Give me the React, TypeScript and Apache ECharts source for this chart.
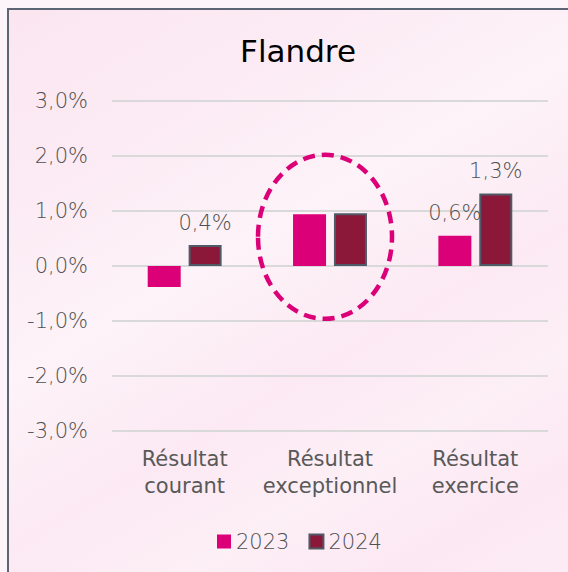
import React, { useEffect, useRef } from "react";
import * as echarts from "echarts";

const categories = ["Résultat\ncourant", "Résultat\nexceptionnel", "Résultat\nexercice"];
const values2023 = [-0.38, 0.94, 0.55];
const values2024 = [0.38, 0.96, 1.32];
const labels2023 = [false, false, true];
const labels2024 = [true, false, true];
const seriesNames = ["2023", "2024"];
const yMin = -3;
const yMax = 3;
const yInterval = 1;

const FONT = "'DejaVu Sans', sans-serif";
const GREY = "#595959";
const THIN_GREY = "#505050";

function fmt(v: number) {
  return v.toFixed(1).replace(".", ",") + "%";
}

export default function App() {
  const ref = useRef<HTMLDivElement>(null);
  useEffect(() => {
    if (!ref.current) return;
    const chart = echarts.init(ref.current, null, { renderer: "svg" });
    const labelStyle = {
      position: "top" as const,
      distance: 12,
      fontFamily: FONT,
      fontSize: 21,
      fontWeight: 200,
      color: THIN_GREY,
      formatter: (p: any) => fmt(Math.round(p.value * 10) / 10),
    };
    chart.setOption({
      animation: false,
      backgroundColor: "transparent",
      title: {
        text: "Flandre",
        left: 293,
        textAlign: "center",
        top: 30,
        textStyle: { fontFamily: FONT, fontSize: 31, fontWeight: "normal", color: "#000" },
      },
      legend: {
        left: 212,
        top: 526,
        icon: "rect",
        itemWidth: 14,
        itemHeight: 14,
        itemGap: 19,
        textStyle: { fontFamily: FONT, fontSize: 21, fontWeight: 200, color: THIN_GREY, padding: [0, 0, 0, 0] },
        data: seriesNames,
      },
      grid: { left: 112, right: 20, top: 101, bottom: 141, containLabel: false },
      xAxis: {
        type: "category",
        data: categories,
        axisLine: { show: false },
        axisTick: { show: false },
        axisLabel: {
          fontFamily: FONT,
          fontSize: 21,
          fontWeight: "normal",
          color: GREY,
          lineHeight: 27,
          margin: 14,
          interval: 0,
        },
      },
      yAxis: {
        type: "value",
        min: yMin,
        max: yMax,
        interval: yInterval,
        axisLine: { show: false },
        axisTick: { show: false },
        splitLine: { lineStyle: { color: "#d9d9d9", width: 2 } },
        axisLabel: {
          fontFamily: FONT,
          fontSize: 21,
          fontWeight: 200,
          color: THIN_GREY,
          margin: 24,
          formatter: (v: number) => fmt(v),
        },
      },
      series: [
        {
          name: seriesNames[0],
          type: "bar",
          barWidth: 33,
          barGap: "24%",
          itemStyle: { color: "#dc0078" },
          data: values2023.map((v, i) => ({ value: v, label: { show: labels2023[i], ...labelStyle } })),
        },
        {
          name: seriesNames[1],
          type: "bar",
          barWidth: 33,
          itemStyle: { color: "#8b1739", borderColor: "#505a67", borderWidth: 2 },
          data: values2024.map((v, i) => ({ value: v, label: { show: labels2024[i], ...labelStyle } })),
        },
      ],
    });
    const cx = chart.convertToPixel({ xAxisIndex: 0 }, categories[1]) as number;
    const cy = chart.convertToPixel({ yAxisIndex: 0 }, 0.53) as number;
    chart.setOption({
      graphic: [
        {
          type: "ellipse",
          shape: { cx: cx - 5, cy, rx: 67, ry: 82 },
          style: { fill: "none", stroke: "#dc0078", lineWidth: 4.5, lineDash: [12, 7] },
          z: 10,
        },
      ],
    });
    return () => chart.dispose();
  }, []);
  return (
    <div
      style={{
        position: "fixed",
        left: 0,
        top: 0,
        width: 568,
        height: 572,
        overflow: "hidden",
        background: "#fdf4f9",
      }}
    >
      <div
        style={{
          position: "absolute",
          left: 7,
          top: 8,
          width: 620,
          height: 620,
          border: "2px solid #5b6573",
          background:
            "linear-gradient(150deg, #fbe6f0 0%, #fcebf4 20%, #fdf3f8 38%, #fce9f3 55%, #fdeff6 68%, #fce8f3 80%, #fdeef6 100%)",
        }}
      />
      <div ref={ref} style={{ position: "absolute", left: 0, top: 0, width: 568, height: 572 }} />
    </div>
  );
}
